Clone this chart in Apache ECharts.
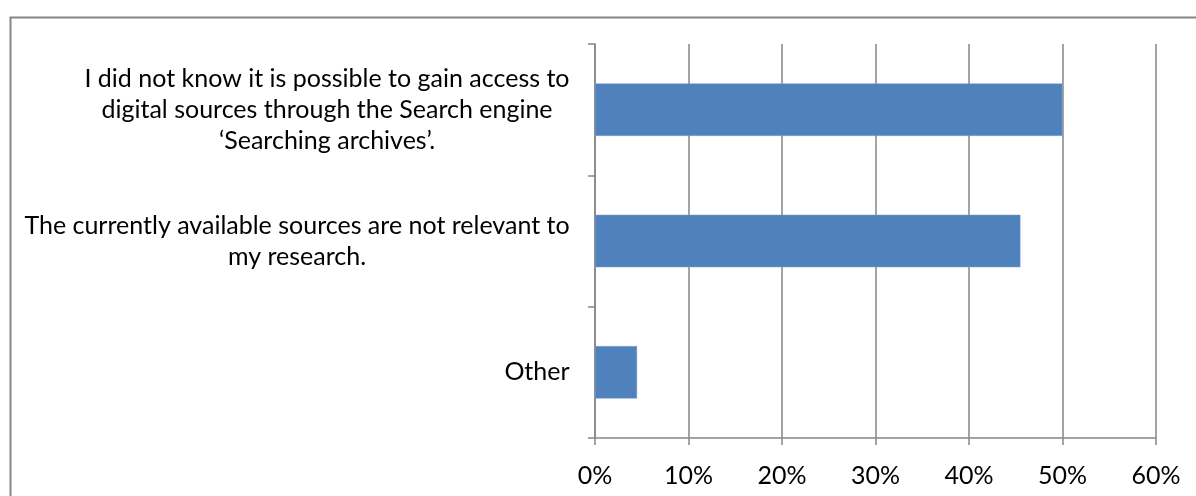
<!DOCTYPE html>
<html>
<head>
<meta charset="utf-8">
<script src="https://cdn.jsdelivr.net/npm/echarts@6/dist/echarts.min.js"></script>
<style>
html,body{margin:0;padding:0;background:#fff;}
#c{width:1196px;height:496px;}
</style>
</head>
<body>
<div id="c"></div>
<script>
const categories = [
  ["I did not know it is possible to gain access to", "digital sources through the Search engine", "\u2018Searching archives\u2019."],
  ["The currently available sources are not relevant to", "my research."],
  ["Other"]
];
const values = [0.50, 0.455, 0.045];
const xTicks = { min: 0, max: 0.6, interval: 0.1 };

const FONT = 'Lato';
const FS = 25;
const ctx = document.createElement('canvas').getContext('2d');
ctx.font = FS + 'px ' + FONT;
const rich = {};
categories.forEach((lines, i) => {
  const w = Math.ceil(Math.max(...lines.map(l => ctx.measureText(l).width)));
  rich['a' + i] = { width: w, align: 'center', fontFamily: FONT, fontSize: FS, lineHeight: 31, color: '#000' };
});

const chart = echarts.init(document.getElementById('c'));
chart.setOption({
  animation: false,
  backgroundColor: '#fff',
  graphic: [{
    type: 'rect', left: 8, top: 15, z: -1,
    shape: { width: 1300, height: 600 },
    style: { fill: 'none', stroke: '#868686', lineWidth: 2 }
  }],
  grid: { left: 595, right: 40, top: 44, bottom: 58, containLabel: false },
  xAxis: {
    type: 'value', min: xTicks.min, max: xTicks.max, interval: xTicks.interval,
    axisLine: { show: true, lineStyle: { color: '#868686', width: 1.5 } },
    axisTick: { show: true, length: 7, lineStyle: { color: '#868686', width: 1.5 } },
    splitLine: { show: true, lineStyle: { color: '#868686', width: 1.5 } },
    axisLabel: {
      color: '#000', fontFamily: FONT, fontSize: FS, margin: 25,
      formatter: v => Math.round(v * 100) + '%'
    }
  },
  yAxis: {
    type: 'category', inverse: true,
    data: categories.map((c, i) => String(i)),
    axisLine: { show: true, lineStyle: { color: '#868686', width: 1.5 } },
    axisTick: { show: true, length: 7, lineStyle: { color: '#868686', width: 1.5 } },
    splitLine: { show: false },
    axisLabel: {
      color: '#000', fontFamily: FONT, fontSize: FS, margin: 25, align: 'right',
      lineHeight: 31,
      formatter: v => categories[+v].map(l => '{a' + v + '|' + l + '}').join('\n'),
      rich: rich
    }
  },
  series: [{
    type: 'bar', data: values, barCategoryGap: '60%',
    itemStyle: { color: '#4F81BD', borderColor: '#7FA3CF', borderWidth: 0.5 }
  }]
});
</script>
</body>
</html>
